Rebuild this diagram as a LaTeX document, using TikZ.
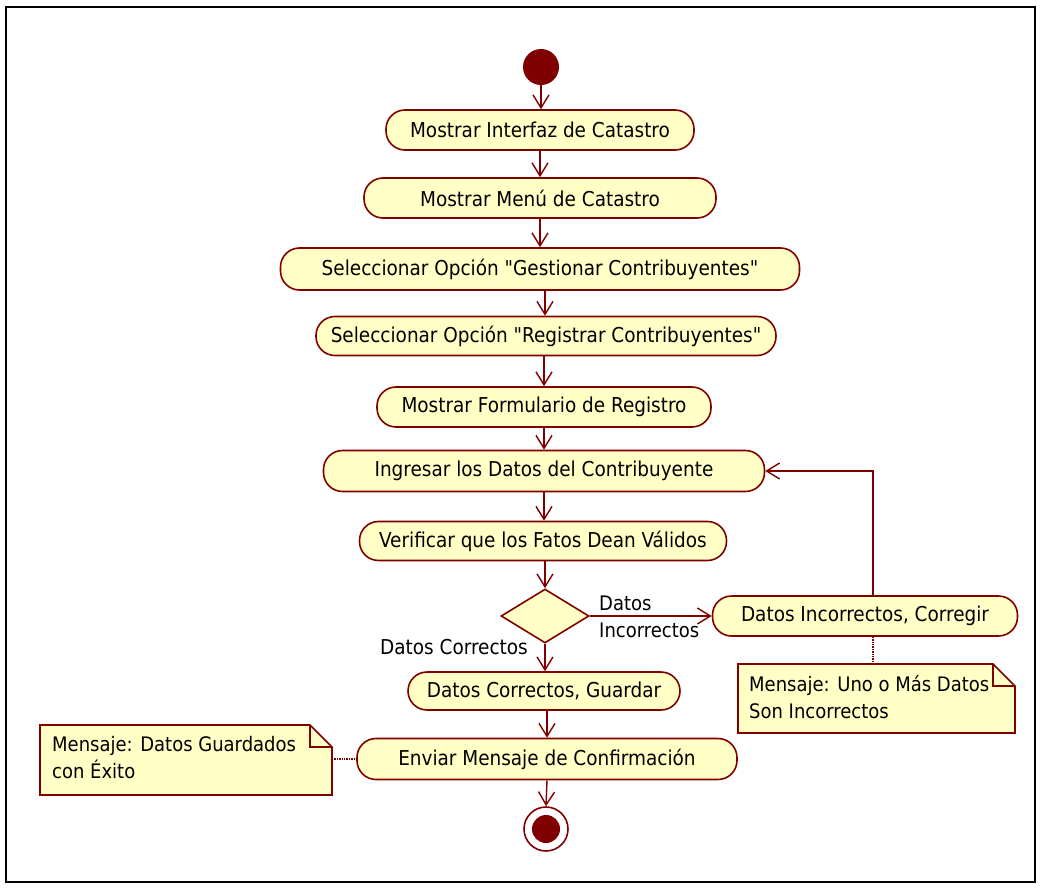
\documentclass[tikz,border=0pt]{standalone}
\usepackage{fontspec}
\setmainfont{DejaVu Sans Condensed}
\usetikzlibrary{arrows.meta,shapes.geometric}
\definecolor{umlred}{HTML}{800000}
\definecolor{umlfill}{HTML}{FFFFC6}
\begin{document}
\begin{tikzpicture}[x=1pt,y=-1pt,
  font=\fontsize{20.5}{24}\selectfont,
  act/.style={draw=umlred,line width=1.6pt,fill=umlfill,rounded corners=19pt,
    minimum height=40pt,inner sep=0pt,anchor=center},
  flow/.style={draw=umlred,line width=1.4pt,-{Straight Barb[length=13pt,width=16pt,line width=1.4pt]}},
  link/.style={draw=umlred,line width=1.4pt,densely dotted},
  notetext/.style={align=left,anchor=north west,inner sep=0pt,font=\fontsize{20}{27}\selectfont}]
\useasboundingbox (0,0) rectangle (1042,888);
\draw[black,line width=1.2pt] (6,7) rectangle (1035,882);

% start
\node[circle,fill=umlred,minimum size=36pt,inner sep=0pt] (start) at (541,67) {};

% actions
\node[act,minimum width=308pt] (a1) at (540,130) {Mostrar Interfaz de Catastro};
\node[act,minimum width=352pt] (a2) at (540,198) {Mostrar Menú de Catastro};
\node[act,minimum width=519pt,minimum height=42pt] (a3) at (540,269) {Seleccionar Opción \textquotedbl Gestionar Contribuyentes\textquotedbl};
\node[act,minimum width=460pt,minimum height=39pt] (a4) at (546,336) {Seleccionar Opción \textquotedbl Registrar Contribuyentes\textquotedbl};
\node[act,minimum width=334pt] (a5) at (544,407) {Mostrar Formulario de Registro};
\node[act,minimum width=441pt,minimum height=41pt] (a6) at (544,471) {Ingresar los Datos del Contribuyente};
\node[act,minimum width=367pt,minimum height=39pt] (a7) at (543,541) {Verificar que los Fatos Dean Válidos};
\node[diamond,draw=umlred,line width=1.6pt,fill=umlfill,minimum width=88pt,minimum height=54pt,inner sep=0pt] (dec) at (545,616) {};
\node[act,minimum width=272pt,minimum height=38pt] (ok) at (544,691) {Datos Correctos, Guardar};
\node[act,minimum width=380pt,minimum height=41pt] (send) at (547,759) {Enviar Mensaje de Confirmación};
\node[act,minimum width=305pt] (bad) at (865,616) {Datos Incorrectos, Corregir};

% end
\node[circle,draw=umlred,line width=1.6pt,fill=white,minimum size=44pt,inner sep=0pt] (stop) at (546,829) {};
\node[circle,fill=umlred,minimum size=28pt,inner sep=0pt] at (stop) {};

% notes
\draw[draw=umlred,line width=1.6pt,fill=umlfill]
  (738,664) -- (993,664) -- (1015,686) -- (1015,733) -- (738,733) -- cycle;
\draw[draw=umlred,line width=1.6pt] (993,664) -- (993,686) -- (1015,686);
\node[notetext] (note1) at (749,675) {Mensaje: Uno o Más Datos\\Son Incorrectos};

\draw[draw=umlred,line width=1.6pt,fill=umlfill]
  (40,725) -- (310,725) -- (332,747) -- (332,795) -- (40,795) -- cycle;
\draw[draw=umlred,line width=1.6pt] (310,725) -- (310,747) -- (332,747);
\node[notetext] (note2) at (52,736) {Mensaje: Datos Guardados\\con Éxito};
\coordinate (n1top) at (873,664);
\coordinate (n2right) at (332,759);

% flows
\draw[flow] (start.south) -- (start.south |- a1.north);
\draw[flow] (a1.south) -- (a1.south |- a2.north);
\draw[flow] (a2.south) -- (a2.south |- a3.north);
\draw[flow] ([xshift=5pt]a3.south) -- ([xshift=5pt]a3.south |- a4.north);
\draw[flow] ([xshift=-2pt]a4.south) -- ([xshift=-2pt]a4.south |- a5.north);
\draw[flow] (a5.south) -- (a5.south |- a6.north);
\draw[flow] (a6.south) -- (a6.south |- a7.north);
\draw[flow] ([xshift=2pt]a7.south) -- (dec.north);
\draw[flow] (dec.south) -- (dec.south |- ok.north);
\draw[flow] ([xshift=3pt]ok.south) -- ([xshift=3pt]ok.south |- send.north);
\draw[flow] (send.south) -- (stop.north);
\draw[flow] (dec.east) -- (bad.west);
\draw[flow] ([xshift=8pt]bad.north) |- (a6.east);

% labels
\node[anchor=west,align=left,inner sep=0pt,font=\fontsize{20}{27}\selectfont] (lbad) at (599,617) {Datos\\Incorrectos};
\node[anchor=east,inner sep=0pt] (lok) at (528,647) {Datos Correctos};

% note links
\draw[link] ([xshift=8pt]bad.south) -- (n1top);
\draw[link] (n2right) -- (send.west);
\end{tikzpicture}
\end{document}
